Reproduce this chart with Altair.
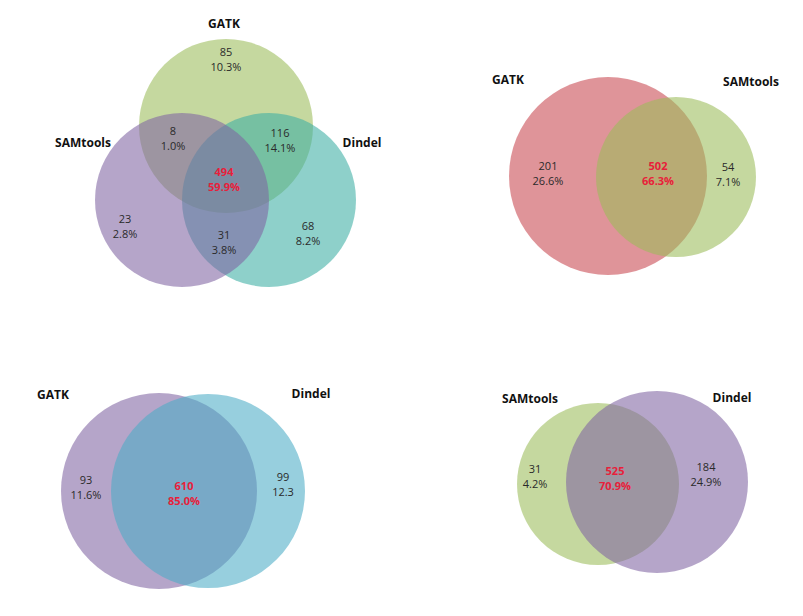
import altair as alt
import pandas as pd

# ---------------- data ----------------
# Panel 1: GATK / SAMtools / Dindel
p1_sets = ["GATK", "SAMtools", "Dindel"]
p1_regions = ["GATK only", "GATK+SAMtools", "GATK+Dindel", "all three",
              "SAMtools only", "SAMtools+Dindel", "Dindel only"]
p1_counts = ["85", "8", "116", "494", "23", "31", "68"]
p1_pcts = ["10.3%", "1.0%", "14.1%", "59.9%", "2.8%", "3.8%", "8.2%"]

# Panel 2: GATK / SAMtools
p2_sets = ["GATK", "SAMtools"]
p2_regions = ["GATK only", "both", "SAMtools only"]
p2_counts = ["201", "502", "54"]
p2_pcts = ["26.6%", "66.3%", "7.1%"]

# Panel 3: GATK / Dindel
p3_sets = ["GATK", "Dindel"]
p3_regions = ["GATK only", "both", "Dindel only"]
p3_counts = ["93", "610", "99"]
p3_pcts = ["11.6%", "85.0%", "12.3"]

# Panel 4: SAMtools / Dindel
p4_sets = ["SAMtools", "Dindel"]
p4_regions = ["SAMtools only", "both", "Dindel only"]
p4_counts = ["31", "525", "184"]
p4_pcts = ["4.2%", "70.9%", "24.9%"]

# ---------------- layout (page pixel coordinates) ----------------
circle_cx = [226, 182, 269, 608, 676, 159, 208, 598, 657]
circle_cy = [126, 200, 200, 176, 177, 491, 491, 484, 482]
circle_r = [87, 87, 87, 99, 80, 98, 97, 81, 91]
circle_color = ["#9BBB59", "#8064A2", "#3CAEA3",
                "#C8464F", "#9BBB59",
                "#8064A2", "#4BACC6",
                "#9BBB59", "#8064A2"]
circle_order = [0, 2, 1, 0, 1, 0, 1, 0, 1]
circle_names = p1_sets + p2_sets + p3_sets + p4_sets

set_label_x = [224, 83, 362, 508, 751, 53, 311, 530, 732]
set_label_y = [24, 143, 143, 80, 82, 395, 394, 399, 398]

region_x = [226, 173, 280, 224, 125, 224, 308,
            548, 658, 728,
            86, 184, 283,
            535, 615, 706]
region_y = [53, 132, 134, 173, 220, 236, 227,
            167, 167, 168,
            481, 487, 478,
            470, 472, 468]
center_regions = {3, 8, 11, 14}

# ---------------- tables ----------------
circles = pd.DataFrame({
    "name": circle_names,
    "cx": circle_cx, "cy": circle_cy,
    "size": [(2 * r) ** 2 for r in circle_r],
    "color": circle_color,
    "order": [i * 10 + o for i, o in zip([0, 0, 0, 1, 1, 2, 2, 3, 3], circle_order)],
})

set_labels = pd.DataFrame({
    "name": circle_names, "x": set_label_x, "y": set_label_y,
})

all_counts = p1_counts + p2_counts + p3_counts + p4_counts
all_pcts = p1_pcts + p2_pcts + p3_pcts + p4_pcts
all_regions = p1_regions + p2_regions + p3_regions + p4_regions
regions = pd.DataFrame({
    "region": all_regions,
    "label": [c + "\n" + p for c, p in zip(all_counts, all_pcts)],
    "x": region_x, "y": region_y,
    "color": ["#E8203A" if i in center_regions else "#2a2a2a" for i in range(len(all_counts))],
})
reg_center = regions[regions.index.isin(center_regions)]
reg_other = regions[~regions.index.isin(center_regions)]

W, H = 787, 600
xs = alt.Scale(domain=[8, 8 + W])
ys = alt.Scale(domain=[8 + H, 8])

base_x = lambda f: alt.X(f"{f}:Q", scale=xs, axis=None)
base_y = lambda f: alt.Y(f"{f}:Q", scale=ys, axis=None)

circ = alt.Chart(circles).mark_point(
    filled=True, shape="circle", opacity=0.58, strokeWidth=0
).encode(
    x=base_x("cx"), y=base_y("cy"),
    size=alt.Size("size:Q", scale=None, legend=None),
    color=alt.Color("color:N", scale=None),
    order=alt.Order("order:Q"),
)

names = alt.Chart(set_labels).mark_text(
    font="Open Sans", fontSize=12, fontWeight="bold", color="#111111"
).encode(x=base_x("x"), y=base_y("y"), text="name:N")

txt_other = alt.Chart(reg_other).mark_text(
    font="Open Sans", fontSize=11, lineBreak="\n", lineHeight=15
).encode(
    x=base_x("x"), y=base_y("y"), text="label:N",
    color=alt.Color("color:N", scale=None),
)
txt_center = alt.Chart(reg_center).mark_text(
    font="Open Sans", fontSize=11, fontWeight="bold", lineBreak="\n", lineHeight=15
).encode(
    x=base_x("x"), y=base_y("y"), text="label:N",
    color=alt.Color("color:N", scale=None),
)

chart = alt.layer(circ, names, txt_other, txt_center).properties(
    width=W, height=H, padding=0, autosize=alt.AutoSizeParams(type="none"),
    background="white",
).configure_view(stroke=None)

chart.save("out.html", embed_options={"renderer": "svg", "actions": False})
